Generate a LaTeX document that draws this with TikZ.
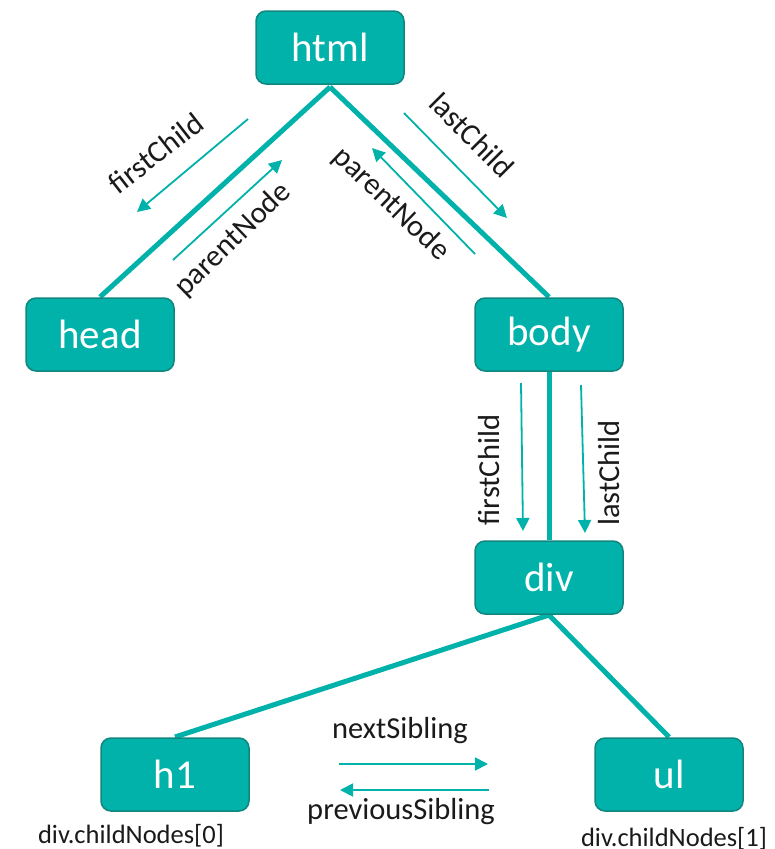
\documentclass[tikz,border=0pt]{standalone}
\usepackage{fontspec}
\setmainfont{Carlito}
\usetikzlibrary{arrows.meta}
\definecolor{teal1}{HTML}{00B2A9}
\definecolor{tealdark}{HTML}{10867F}
\definecolor{txt}{HTML}{1A1A1A}
\tikzset{
  box/.style={draw=tealdark, line width=1.5pt, fill=teal1, rounded corners=10pt,
    minimum width=148pt, minimum height=73pt, inner sep=0pt, text=white,
    font=\fontsize{41}{43}\selectfont},
  tree/.style={draw=teal1, line width=5pt},
  ptr/.style={draw=teal1, line width=1.8pt, -{Triangle[length=13pt,width=13pt]}},
  lbl/.style={text=txt, font=\fontsize{30.5}{32}\selectfont, inner sep=0pt},
  sublbl/.style={text=txt, font=\fontsize{26.5}{28}\selectfont, inner sep=0pt}
}
\begin{document}
\begin{tikzpicture}[x=1pt,y=-1pt]
\useasboundingbox (0,0) rectangle (775,849);
% tree edges
\coordinate (htmlB) at (330,87);
\coordinate (headT) at (100,297);
\coordinate (bodyT) at (549,297);
\coordinate (bodyB) at (549,372);
\coordinate (divT) at (549,540);
\coordinate (divB) at (549,615);
\coordinate (h1T) at (175,737);
\coordinate (ulT) at (669,737);
\draw[tree] (htmlB) -- (headT);
\draw[tree] (htmlB) -- (bodyT);
\draw[tree] (bodyB) -- (divT);
\draw[tree] (divB) -- (h1T);
\draw[tree] (divB) -- (ulT);
% nodes
\node[box] (html) at (330,47.5) {html};
\node[box] (head) at (100,334.5) {head};
\node[box] (body) at (549,334.5) {body};
\node[box] (div) at (549,577.5) {div};
\node[box] (h1) at (175,774.5) {h1};
\node[box] (ul) at (669,774.5) {ul};
% pointer arrows
\coordinate (a1s) at (248,119); \coordinate (a1e) at (137,212);
\coordinate (a2s) at (173,260); \coordinate (a2e) at (282,160);
\coordinate (a3s) at (404,113); \coordinate (a3e) at (507,218);
\coordinate (a4s) at (475,254); \coordinate (a4e) at (372,148);
\coordinate (a5s) at (521,383); \coordinate (a5e) at (523,531);
\coordinate (a6s) at (581,385); \coordinate (a6e) at (585,533);
\coordinate (a7s) at (339,764); \coordinate (a7e) at (488,764);
\coordinate (a8s) at (489,790); \coordinate (a8e) at (340,790);
\draw[ptr] (a1s) -- (a1e);
\draw[ptr] (a2s) -- (a2e);
\draw[ptr] (a3s) -- (a3e);
\draw[ptr] (a4s) -- (a4e);
\draw[ptr] (a5s) -- (a5e);
\draw[ptr] (a6s) -- (a6e);
\draw[ptr] (a7s) -- (a7e);
\draw[ptr] (a8s) -- (a8e);
% labels
\node[lbl, rotate=38] (l1) at (156,153) {firstChild};
\node[lbl, rotate=44] (l2) at (233,240) {parentNode};
\node[lbl, rotate=-45] (l3) at (472,135) {lastChild};
\node[lbl, rotate=-44] (l4) at (391,204) {parentNode};
\node[lbl, rotate=90] (l5) at (489,470) {firstChild};
\node[lbl, rotate=90] (l6) at (609,473) {lastChild};
\node[lbl] (l7) at (400,731) {nextSibling};
\node[lbl] (l8) at (401,812) {previousSibling};
\node[sublbl] (l9) at (131,836) {div.childNodes[0]};
\node[sublbl] (l10) at (674,839) {div.childNodes[1]};
\end{tikzpicture}
\end{document}
